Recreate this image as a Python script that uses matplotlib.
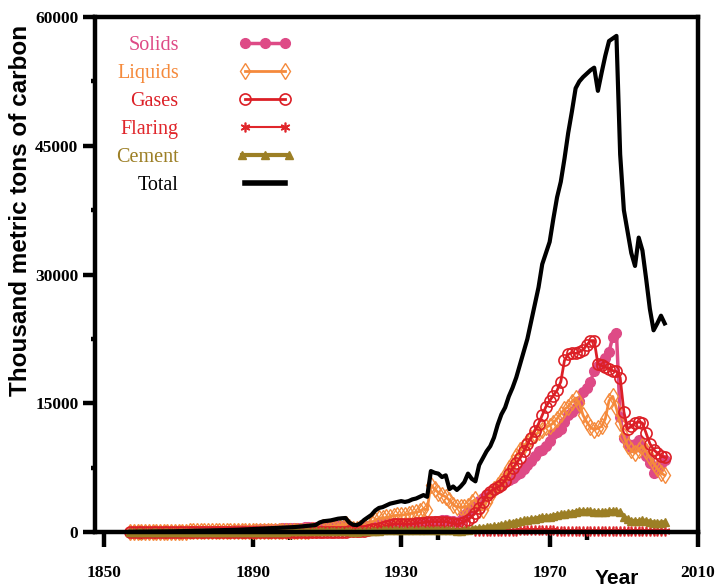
import numpy as np
import matplotlib.pyplot as plt
from matplotlib.legend_handler import HandlerLine2D
from matplotlib.ticker import MultipleLocator

# years 1857 - 2001, thousand metric tons of carbon
years = list(range(1857, 2002))

total = [10, 15, 20,
         25, 30, 35, 40, 45, 50, 55, 60, 70, 80,
         90, 100, 110, 120, 130, 140, 150, 160, 170, 180,
         190, 200, 210, 220, 230, 240, 260, 280, 300, 320,
         340, 360, 380, 400, 420, 440, 460, 480, 500, 520,
         540, 570, 600, 640, 680, 720, 770, 820, 1100, 1250,
         1300, 1350, 1450, 1550, 1600, 1630, 1100, 850, 800, 1000,
         1400, 1700, 2000, 2500, 2800, 2900, 3100, 3300, 3400, 3500,
         3600, 3500, 3600, 3800, 3900, 4100, 4300, 4100, 7100, 6900,
         6800, 6400, 6600, 5000, 5300, 4900, 5300, 5800, 6800, 6200,
         5900, 7800, 8600, 9400, 10000, 11000, 12500, 13700, 14500, 15800,
         16800, 18000, 19500, 21000, 22500, 24500, 26500, 28500, 31200, 32500,
         33800, 36500, 39000, 40800, 43500, 46500, 49000, 51700, 52500, 53000,
         53400, 53800, 54100, 51400, 53500, 55500, 57200, 57500, 57800, 44000,
         37500, 35000, 32500, 31000, 34300, 32800, 29500, 26000, 23500, 24300,
         25200, 24300]

solids = [0, 0, 0,
          0, 0, 0, 0, 0, 5, 10, 15, 20, 25,
          30, 40, 50, 60, 70, 80, 90, 100, 110, 120,
          130, 140, 150, 160, 170, 180, 190, 200, 220, 240,
          260, 280, 300, 320, 340, 360, 380, 400, 420, 440,
          450, 470, 490, 510, 530, 550, 570, 590, 610, 630,
          650, 680, 700, 720, 700, 680, 500, 400, 380, 450,
          550, 650, 750, 850, 900, 950, 1000, 1050, 1050, 1050,
          1000, 900, 850, 900, 1000, 1050, 1100, 1150, 1200, 1250,
          1300, 1350, 1400, 1300, 1250, 1200, 1400, 2000, 2400, 2800,
          3200, 3600, 4000, 4300, 4600, 4900, 5200, 5500, 5800, 6100,
          6300, 6600, 6900, 7300, 7800, 8300, 8900, 9400, 9600, 10000,
          10600, 11400, 11700, 12000, 12800, 13600, 14000, 14400, 15300, 16300,
          16800, 17500, 18800, 19300, 19700, 20300, 21000, 22700, 23200, 13400,
          11000, 10200, 9900, 10300, 10700, 9800, 8800, 8000, 6900, 7300,
          7900, 8400]

liquids = [5, 8, 10,
           12, 15, 18, 20, 22, 25, 28, 30, 35, 40,
           45, 50, 55, 60, 60, 60, 60, 60, 60, 60,
           60, 60, 60, 60, 60, 60, 70, 80, 80, 80,
           80, 80, 80, 80, 80, 80, 80, 80, 80, 80,
           90, 100, 110, 130, 150, 170, 200, 230, 450, 550,
           600, 620, 700, 780, 850, 900, 550, 400, 380, 480,
           750, 900, 1100, 1400, 1600, 1600, 1700, 1800, 1900, 1950,
           2000, 2000, 2100, 2200, 2300, 2400, 2700, 2600, 5500, 5000,
           4600, 4300, 4100, 3700, 3200, 2900, 2900, 2900, 3000, 3500,
           3800, 2600, 2600, 3500, 4200, 5000, 5500, 6000, 6600, 7400,
           8200, 8900, 9500, 10000, 10500, 10900, 11300, 11600, 11900, 12200,
           12400, 12700, 13200, 13800, 14300, 14600, 15200, 15600, 15000, 13600,
           12800, 12200, 11900, 12100, 12300, 13200, 15300, 15800, 14400, 12700,
           11200, 10000, 9500, 9200, 9600, 10000, 9400, 8700, 8000, 7400,
           6900, 6600]

gases = [0] * 58 + [50, 60, 70, 80, 100,
         150, 200, 300, 400, 500, 600, 700, 800, 900, 950,
         950, 900, 900, 950, 1000, 1050, 1100, 1150, 1200, 1200,
         1200, 1200, 1200, 1100, 1000, 900, 1000, 1200, 1400, 1800,
         2200, 2800, 3500, 4300, 4700, 5000, 5200, 5500, 6000, 6800,
         7400, 8000, 8600, 9400, 10200, 11000, 11800, 12600, 13600, 14600,
         15300, 15900, 16500, 17500, 20000, 20700, 20900, 20800, 21000, 21200,
         21800, 22300, 22300, 19600, 19400, 19200, 19000, 18800, 18700, 18000,
         14000, 12000, 12300, 12700, 12800, 12700, 11500, 10300, 9600, 9200,
         8900, 8700]

flaring_years = list(range(1950, 2002))
flaring = [100, 110, 120, 130, 140, 150, 150, 160, 160, 170,
           170, 170, 180, 180, 180, 180, 180, 180, 180, 180,
           180, 180, 170, 170, 170, 160, 160, 160, 150, 150,
           150, 150, 140, 140, 140, 130, 130, 130, 120, 120,
           110, 100, 100, 100, 100, 100, 100, 100, 100, 100,
           100, 100]

cement = [0] * 33 + [10, 15, 20, 25, 30, 35, 40, 45, 50, 55,
          60, 65, 70, 75, 80, 85, 90, 95, 100, 105,
          110, 115, 120, 120, 110, 100, 60, 40, 40, 60,
          90, 110, 130, 150, 170, 190, 200, 210, 220, 230,
          220, 200, 180, 190, 200, 220, 240, 260, 280, 280,
          270, 260, 250, 220, 180, 150, 170, 200, 250, 300,
          400, 450, 500, 550, 600, 650, 700, 800, 900, 1000,
          1100, 1200, 1250, 1350, 1400, 1500, 1550, 1650, 1700, 1750,
          1800, 1900, 2000, 2050, 2100, 2200, 2250, 2350, 2450, 2450,
          2450, 2400, 2350, 2300, 2300, 2350, 2400, 2450, 2400, 2300,
          1800, 1500, 1300, 1300, 1250, 1350, 1300, 1200, 1100, 1050,
          1100, 1150]

c_solids = "#de4a86"
c_liquids = "#f58a3c"
c_gases = "#dc1f26"
c_flaring = "#e0262b"
c_cement = "#9c7f25"

fig = plt.figure(figsize=(7.16, 5.87), dpi=100)
ax = fig.add_axes([0.1327, 0.0937, 0.8423, 0.8773])

l_sol, = ax.plot(years, solids, color=c_solids, lw=2.5, marker="o", ms=7,
                 mfc=c_solids, mec=c_solids, clip_on=False, label="Solids")
l_liq, = ax.plot(years, liquids, color=c_liquids, lw=2, marker="d", ms=8,
                 mfc="none", mec=c_liquids, mew=1.0, clip_on=False, label="Liquids")
l_gas, = ax.plot(years, gases, color=c_gases, lw=2, marker="o", ms=8,
                 mfc="none", mec=c_gases, mew=1.2, clip_on=False, label="Gases")
l_fla, = ax.plot(flaring_years, flaring, color=c_flaring, lw=1.5, marker=(6, 2, 0),
                 ms=7, mec=c_flaring, mew=1.2, clip_on=False, label="Flaring")
l_cem, = ax.plot(years, cement, color=c_cement, lw=3, marker="^", ms=6,
                 mfc=c_cement, mec=c_cement, clip_on=False, label="Cement")
l_tot, = ax.plot(years, total, color="black", lw=3, clip_on=False, label="Total")

ax.set_xlim(1847.5, 2009.5)
ax.set_ylim(0, 60000)
ax.set_xticks([1850, 1890, 1930, 1970, 2010])
ax.xaxis.set_minor_locator(MultipleLocator(40, offset=20))
ax.set_yticks([0, 15000, 30000, 45000, 60000])
ax.yaxis.set_minor_locator(MultipleLocator(7500))

for s in ax.spines.values():
    s.set_linewidth(3.2)
ax.tick_params(which="major", length=9, width=3.2, direction="out")
ax.tick_params(which="minor", length=6, width=3.2, direction="out")
ax.tick_params(axis="y", which="minor", length=3)
ax.tick_params(axis="x", which="major", length=11, pad=13)
ax.tick_params(axis="y", which="major", pad=3)
for lab in ax.get_xticklabels() + ax.get_yticklabels():
    lab.set_fontfamily("Liberation Serif")
    lab.set_fontweight("bold")
    lab.set_fontsize(12.5)

ax.set_ylabel("Thousand metric tons of carbon", fontfamily="Liberation Sans",
              fontweight="bold", fontsize=17.5)
ax.yaxis.set_label_coords(-0.104, 0.625)
ax.set_xlabel("Year", fontfamily="Liberation Sans", fontweight="bold", fontsize=15)
ax.xaxis.set_label_coords(0.866, -0.071)

handles = [l_sol, l_liq, l_gas, l_fla, l_cem, l_tot]
hmap = {h: HandlerLine2D(numpoints=2, marker_pad=0.85) for h in handles}
hmap[l_sol] = HandlerLine2D(numpoints=3, marker_pad=0.85)
hmap[l_cem] = HandlerLine2D(numpoints=3, marker_pad=0.7)
leg = ax.legend(handles=handles, loc="upper left", bbox_to_anchor=(0.035, 0.963),
                frameon=False, markerfirst=False, handlelength=3.7,
                handletextpad=2.45, labelspacing=0.44, borderpad=0, borderaxespad=0,
                prop={"family": "Liberation Serif", "size": 14.5}, handler_map=hmap)
for t, h in zip(leg.get_texts(), handles):
    t.set_color(h.get_color())
leg.get_lines()[-1].set_linewidth(4)

fig.savefig("out.png", dpi=100)
